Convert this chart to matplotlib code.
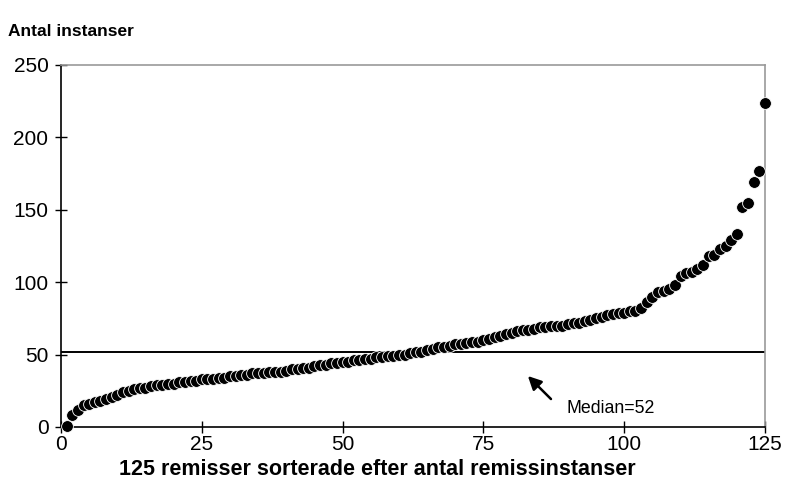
import matplotlib
matplotlib.use("Agg")
import matplotlib.pyplot as plt

plt.rcParams['font.family'] = ['Liberation Sans', 'DejaVu Sans']

remiss_index = list(range(1, 126))
antal_instanser = [
    1, 8, 12, 15, 16, 17, 18, 19, 21, 22,
    24, 25, 26, 27, 27, 28, 29, 29, 30, 30,
    31, 31, 32, 32, 33, 33, 33, 34, 34, 35,
    35, 36, 36, 37, 37, 37, 38, 38, 38, 39,
    40, 40, 41, 41, 42, 43, 43, 44, 44, 45,
    45, 46, 46, 47, 47, 48, 48, 49, 49, 50,
    50, 51, 52, 52, 53, 54, 55, 55, 56, 57,
    57, 58, 59, 59, 60, 61, 62, 63, 64, 65,
    66, 67, 67, 68, 69, 69, 70, 70, 70, 71,
    72, 72, 73, 74, 75, 76, 77, 78, 79, 79,
    80, 80, 82, 86, 90, 93, 94, 95, 98, 104,
    106, 107, 109, 112, 118, 119, 123, 125, 129, 133,
    152, 155, 169, 177, 224,
]
median_value = 52
x_ticks = [0, 25, 50, 75, 100, 125]
y_ticks = [0, 50, 100, 150, 200, 250]

fig = plt.figure(figsize=(7.88, 4.98), dpi=100)
ax = fig.add_axes([0.0774, 0.1426, 0.8934, 0.7269])

ax.axhline(median_value, color='black', lw=1.4, zorder=1)
ax.scatter(remiss_index, antal_instanser, s=72, color='black',
           edgecolors='white', linewidths=0.6, zorder=3, clip_on=False)

ax.set_xlim(0, 125)
ax.set_ylim(0, 250)
ax.set_xticks(x_ticks)
ax.set_yticks(y_ticks)
ax.tick_params(direction='inout', length=8, width=1, labelsize=15)
ax.tick_params(axis='x', pad=2)
ax.tick_params(axis='y', pad=5)

for side in ['left', 'bottom']:
    ax.spines[side].set_color('black')
    ax.spines[side].set_linewidth(1.2)
for side in ['top', 'right']:
    ax.spines[side].set_color('#999999')
    ax.spines[side].set_linewidth(1.2)

ax.set_xlabel('125 remisser sorterade efter antal remissinstanser',
              fontsize=15.5, fontweight='bold')
ax.xaxis.set_label_coords(0.45, -0.088)

ax.annotate('', xy=(82.9, 35.2), xytext=(87.0, 19.3),
            arrowprops=dict(arrowstyle='-|>', color='black', lw=1.8,
                            mutation_scale=20, shrinkA=0, shrinkB=0))
ax.text(89.8, 13, 'Median=52', fontsize=12.8, ha='left', va='center')

fig.text(0.010, 0.937, 'Antal instanser', fontsize=12.5, fontweight='bold',
         ha='left', va='center')

fig.savefig('out.png', dpi=100)
